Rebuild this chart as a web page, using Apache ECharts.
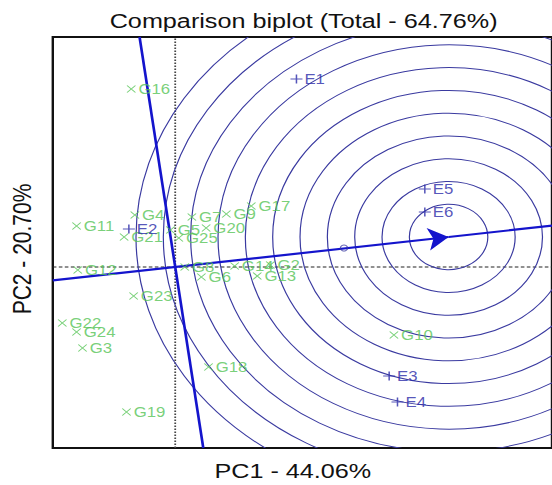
<!DOCTYPE html>
<html>
<head>
<meta charset="utf-8">
<script src="https://cdn.jsdelivr.net/npm/echarts@6/dist/echarts.min.js"></script>
<style>
html,body{margin:0;padding:0;background:#fff;overflow:hidden;width:552px;height:485px;}
#chart{width:460px;height:485px;transform:scaleX(1.2);transform-origin:0 0;}
</style>
</head>
<body>
<div id="chart"></div>
<script>
// ---- data ----
const titleText = 'Comparison biplot (Total - 64.76%)';
const xAxisLabel = 'PC1 - 44.06%';
const yAxisLabel = 'PC2 - 20.70%';

const genotypes = ['G2','G3','G4','G5','G6','G7','G8','G9','G10','G11','G12','G13','G14','G16','G17','G18','G19','G20','G21','G22','G23','G24','G25'];
const genoPC1   = [0.80,-0.78,-0.34,-0.04,0.22,0.14,0.08,0.43,1.84,-0.83,-0.82,0.69,0.50,-0.37,0.64,0.28,-0.41,0.26,-0.43,-0.95,-0.35,-0.83,0.03];
const genoPC2   = [0.02,-0.81,0.52,0.37,-0.10,0.50,0.00,0.53,-0.68,0.41,-0.03,-0.09,0.01,1.78,0.61,-1.00,-1.45,0.39,0.30,-0.56,-0.29,-0.65,0.29];

const environments = ['E1','E2','E3','E4','E5','E6'];
const envPC1 = [1.02,-0.39,1.80,1.87,2.10,2.10];
const envPC2 = [1.88,0.38,-1.09,-1.35,0.78,0.55];

const idealEnv = [2.30, 0.30];       // centre of concentric circles
const meanEnv = [1.42, 0.19];        // average environment marker
const circleRadii = [0.33,0.56,0.79,1.02,1.25,1.48,1.71,1.94,2.17,2.40,2.63];

// ---- chart ----
const xMin = -1.03, xMax = 3.17, yMin = -1.81, yMax = 2.30;
const FONT = 'Liberation Sans, Arial, Helvetica, sans-serif';
const GREEN = '#55c455';
const EBLUE = '#2a2aa8';
const LINEBLUE = '#1414cc';
const CIRCLE = '#3a3aa0';

// average-environment axis through origin and ideal point
const slope = idealEnv[1] / idealEnv[0];
const aeaLeft = [xMin, xMin * slope];
const aeaRight = [xMax, xMax * slope];
// perpendicular axis through origin
const perp = -idealEnv[0] / idealEnv[1];
const atcTop = [yMax / perp, yMax];
const atcBottom = [yMin / perp, yMin];

const chart = echarts.init(document.getElementById('chart'), null, {renderer: 'svg'});

const option = {
  animation: false,
  backgroundColor: '#fff',
  title: {
    text: titleText, left: 248, top: 5, textAlign: 'center',
    textStyle: {fontFamily: FONT, fontSize: 21, fontWeight: 'normal', color: '#111'}
  },
  grid: {left: 44, top: 37, width: 420, height: 411, show: true, borderColor: '#111', borderWidth: 2, backgroundColor: 'transparent'},
  xAxis: {type: 'value', min: xMin, max: xMax, axisLine: {show: false}, axisTick: {show: false}, axisLabel: {show: false}, splitLine: {show: false}},
  yAxis: {type: 'value', min: yMin, max: yMax, axisLine: {show: false}, axisTick: {show: false}, axisLabel: {show: false}, splitLine: {show: false}},
  graphic: [
    {type: 'text', x: 244, y: 471, style: {text: xAxisLabel, font: '21px ' + FONT, fill: '#111', textAlign: 'center', textVerticalAlign: 'middle'}},
    {type: 'text', x: 18.5, y: 249, rotation: Math.PI / 2, style: {text: yAxisLabel, font: '21px ' + FONT, fill: '#111', textAlign: 'center', textVerticalAlign: 'middle'}}
  ],
  series: [
    {type: 'line', data: [[0, yMin], [0, yMax]], showSymbol: false, silent: true, z: 1,
     lineStyle: {color: '#444', width: 1.5, type: 'dotted'}},
    {type: 'line', data: [[xMin, 0], [xMax, 0]], showSymbol: false, silent: true, z: 1,
     lineStyle: {color: '#222', width: 1, type: [3, 2]}},
    {type: 'custom', z: 2, silent: true,
     data: circleRadii.map(r => [idealEnv[0], idealEnv[1], r]),
     renderItem: function (params, api) {
       const c = api.coord([api.value(0), api.value(1)]);
       const rr = api.size([api.value(2), api.value(2)]);
       const cs = params.coordSys;
       return {
         type: 'circle',
         shape: {cx: c[0], cy: c[1], r: rr[0]},
         style: {fill: 'none', stroke: CIRCLE, lineWidth: 1},
         clipPath: {type: 'rect', shape: {x: cs.x, y: cs.y, width: cs.width, height: cs.height}}
       };
     }},
    {type: 'lines', coordinateSystem: 'cartesian2d', z: 3, silent: true,
     symbol: ['none', 'arrow'], symbolSize: 17,
     lineStyle: {color: LINEBLUE, width: 2.2, opacity: 1},
     data: [{coords: [aeaLeft, idealEnv]}]},
    {type: 'lines', coordinateSystem: 'cartesian2d', z: 3, silent: true,
     symbol: ['none', 'none'],
     lineStyle: {color: LINEBLUE, width: 2.2, opacity: 1},
     data: [{coords: [idealEnv, aeaRight]}, {coords: [atcTop, atcBottom]}]},
    {type: 'scatter', z: 4, silent: true, symbol: 'circle', symbolSize: 6,
     itemStyle: {color: 'rgba(0,0,0,0)', borderColor: CIRCLE, borderWidth: 1},
     data: [meanEnv]},
    {type: 'scatter', z: 5, silent: true,
     symbol: 'path://M0,0L10,10M10,0L0,10', symbolSize: 7,
     itemStyle: {color: 'rgba(0,0,0,0)', borderColor: GREEN, borderWidth: 1},
     label: {show: true, position: 'right', distance: 2, formatter: '{b}', fontFamily: FONT, fontSize: 14, color: GREEN},
     data: genotypes.map((g, i) => ({name: g, value: [genoPC1[i], genoPC2[i]]}))},
    {type: 'scatter', z: 6, silent: true,
     symbol: 'path://M5,0L5,10M0,5L10,5', symbolSize: [10, 9],
     itemStyle: {color: 'rgba(0,0,0,0)', borderColor: EBLUE, borderWidth: 1.2},
     label: {show: true, position: 'right', distance: 1, formatter: '{b}', fontFamily: FONT, fontSize: 14, color: EBLUE},
     data: environments.map((e, i) => ({name: e, value: [envPC1[i], envPC2[i]]}))}
  ]
};
chart.setOption(option);
</script>
</body>
</html>
